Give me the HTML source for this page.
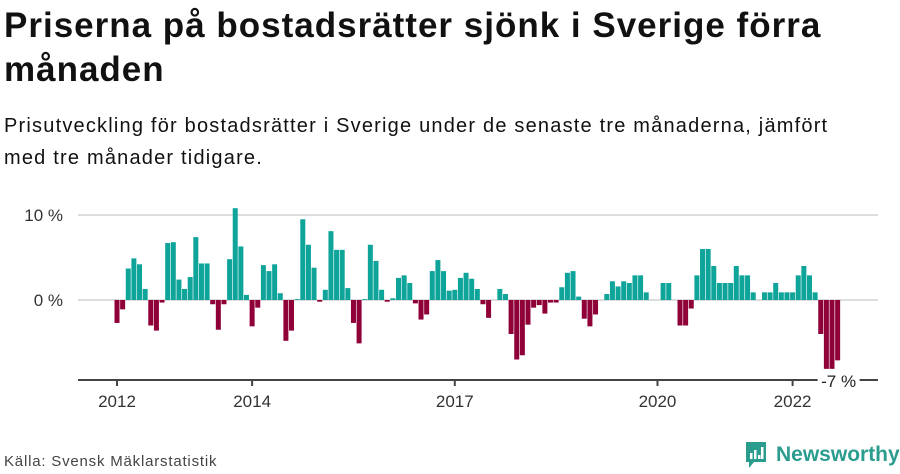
<!DOCTYPE html>
<html><head><meta charset="utf-8"><style>
body{margin:0;width:900px;height:474px;background:#fff;font-family:"Liberation Sans",sans-serif;color:#111;overflow:hidden;position:relative}
h1{position:absolute;left:4px;top:4px;margin:0;font-size:35px;line-height:44px;font-weight:bold;width:880px;letter-spacing:1px}
.sub{position:absolute;left:4px;top:110px;margin:0;font-size:20px;line-height:32px;width:860px;letter-spacing:1.2px}
.src{position:absolute;left:4px;top:453px;font-size:15px;color:#444;letter-spacing:0.8px}
.logo{position:absolute;left:744px;top:440px;display:flex;align-items:center;gap:8px;color:#2a9d8f;font-size:21px;font-weight:bold;white-space:nowrap}
</style></head><body>
<h1>Priserna på bostadsrätter sjönk i Sverige förra månaden</h1>
<p class="sub">Prisutveckling för bostadsrätter i Sverige under de senaste tre månaderna, jämfört med tre månader tidigare.</p>
<svg id="chart" width="900" height="474" style="position:absolute;left:0;top:0"></svg>
<div class="src">Källa: Svensk Mäklarstatistik</div>
<div class="logo"><svg width="24" height="30" viewBox="0 0 24 30"><path d="M2 2h20v20H10l-5 6v-6H2z" fill="#2a9d8f"/><rect x="6" y="13" width="2.5" height="6" fill="#fff"/><rect x="10" y="10" width="2.5" height="9" fill="#fff"/><rect x="14" y="15" width="2.5" height="4" fill="#fff"/><rect x="17" y="7" width="2.5" height="12" fill="#fff"/></svg><span>Newsworthy</span></div>
<script>
const values=[-2.7,-1.1,3.7,4.9,4.2,1.3,-3.0,-3.6,-0.3,6.7,6.8,2.4,1.3,2.7,7.4,4.3,4.3,-0.5,-3.5,-0.5,4.8,10.8,6.3,0.6,-3.1,-0.9,4.1,3.4,4.2,0.8,-4.8,-3.6,0.1,9.5,6.5,3.8,-0.2,1.2,8.1,5.9,5.9,1.4,-2.7,-5.1,
0.1,6.5,4.6,1.2,-0.2,0.2,2.6,2.9,2.0,-0.4,-2.3,-1.7,3.4,4.7,3.4,1.1,1.2,2.6,3.2,2.5,1.3,-0.5,-2.1,0,1.3,0.7,-4.0,-7.0,-6.5,-2.9,-0.9,-0.6,-1.6,-0.3,-0.3,1.5,3.2,3.4,0.4,-2.2,-3.1,-1.7,0,0.7,
2.2,1.6,2.2,2.0,2.9,2.9,0.9,0,0,2.0,2.0,0,-3.0,-3.0,-1.0,2.9,6.0,6.0,4.0,2.0,2.0,2.0,4.0,2.9,2.9,0.9,0,0.9,0.9,2.0,0.9,0.9,0.9,2.9,4.0,2.9,0.9,-4.0,-8.1,-8.1,-7.1];
const startYear=2012;
const yTicks=[0,10];
const yTickLabels=["0 %","10 %"];
const xTickYears=[2012,2014,2017,2020,2022];
const lastLabel="-7 %";
const NS="http://www.w3.org/2000/svg";
const svg=document.getElementById('chart');
const x=i=>117+i*5.63;
const y=v=>300-v*8.5;
function mk(t,a){const e=document.createElementNS(NS,t);for(const k in a)e.setAttribute(k,a[k]);svg.appendChild(e);return e;}
yTicks.forEach((t,k)=>{
 const g=mk('line',{x1:78,x2:878,y1:y(t),y2:y(t),stroke:'#ddd','stroke-width':2});
 
 
 const tx=mk('text',{x:63,y:y(t)+6,'text-anchor':'end','font-size':17,fill:'#333','font-family':'Liberation Sans, sans-serif'});
 tx.textContent=yTickLabels[k];
 
 
});
values.forEach((v,i)=>{
 const r=mk('rect',{x:x(i)-2.5,width:5,y:v>=0?y(v):y(0),height:Math.max(Math.abs(y(v)-y(0)),0.01),fill:v>=0?'#0ea49a':'#8f0039'});
 
 
});
const ax=mk('line',{x1:78,x2:878,y1:380,y2:380,stroke:'#444','stroke-width':2});


xTickYears.forEach(yr=>{
 const xi=x((yr-startYear)*12);
 const tk=mk('line',{x1:xi,x2:xi,y1:380,y2:386,stroke:'#444','stroke-width':2});
 
 
 const t=mk('text',{x:xi,y:407,'text-anchor':'middle','font-size':17,fill:'#333','font-family':'Liberation Sans, sans-serif'});
 t.textContent=yr;
 
 
});
const li=values.length-1;
const bg=mk('rect',{x:x(li)-20,y:372,width:42,height:18,fill:'#fff'});


const lt=mk('text',{x:x(li)+1,y:387,'text-anchor':'middle','font-size':17,fill:'#222','font-family':'Liberation Sans, sans-serif'});
lt.textContent=lastLabel;


</script>
</body></html>
